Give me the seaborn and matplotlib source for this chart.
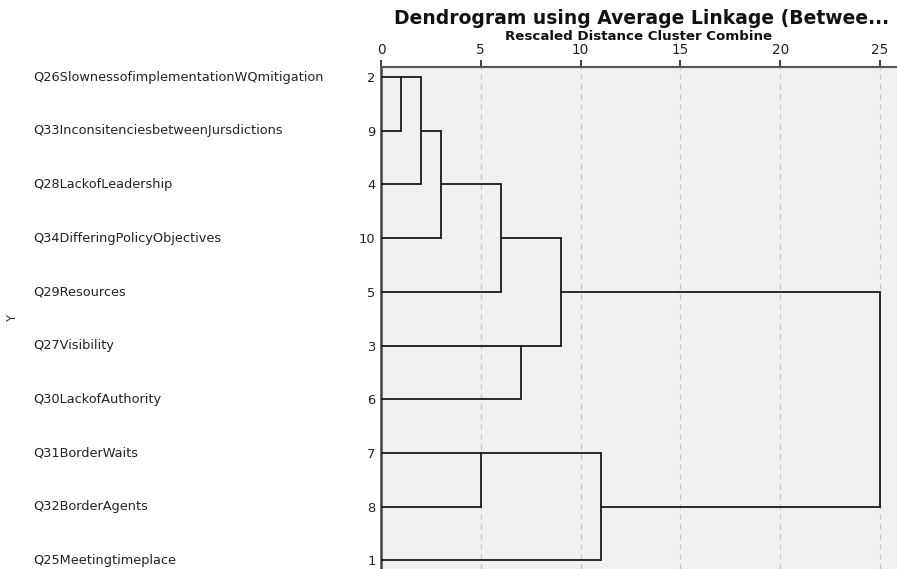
import matplotlib
matplotlib.use("Agg")
import matplotlib.pyplot as plt
import matplotlib.transforms as mtransforms
import numpy as np
import pandas as pd
import seaborn as sns

# Leaves in dendrogram order (top to bottom): case numbers and variable names
case_ids = [2, 9, 4, 10, 5, 3, 6, 7, 8, 1]
variables = [
    "Q26SlownessofimplementationWQmitigation",
    "Q33InconsitenciesbetweenJursdictions",
    "Q28LackofLeadership",
    "Q34DifferingPolicyObjectives",
    "Q29Resources",
    "Q27Visibility",
    "Q30LackofAuthority",
    "Q31BorderWaits",
    "Q32BorderAgents",
    "Q25Meetingtimeplace",
]

# Agglomeration steps: (left member, right member, rescaled distance)
# integers refer to case ids, "cN" to the cluster formed at step N
merge_left = [2, "c1", "c2", "c3", 3, "c4", 7, "c7", "c6"]
merge_right = [9, 4, 10, 5, 6, "c5", 8, 1, "c8"]
merge_dist = [1, 2, 3, 6, 7, 9, 5, 11, 25]

x_ticks = [0, 5, 10, 15, 20, 25]

sns.set_theme(style="white")
plt.rcParams["font.family"] = ["DejaVu Sans"]

# Build the elbow segments of the tree
row_of = {cid: i for i, cid in enumerate(case_ids)}
pos = {cid: (float(row_of[cid]), 0.0) for cid in case_ids}  # (row, x where its line starts)
segments = []
seg_id = 0
for step, (a, b, d) in enumerate(zip(merge_left, merge_right, merge_dist), start=1):
    ra, xa = pos[a]
    rb, xb = pos[b]
    for r, x0 in ((ra, xa), (rb, xb)):
        segments.append(pd.DataFrame({"x": [x0, d], "y": [r, r], "seg": seg_id}))
        seg_id += 1
    segments.append(pd.DataFrame({"x": [d, d], "y": [ra, rb], "seg": seg_id}))
    seg_id += 1
    pos[f"c{step}"] = (float(np.floor((ra + rb) / 2)), float(d))
lines = pd.concat(segments, ignore_index=True)

W, H = 897, 569
fig = plt.figure(figsize=(W / 100, H / 100), dpi=100)
ax = fig.add_axes([381 / W, 0, 1 - 381 / W, 1 - 67 / H])
ax.set_facecolor("#f0f0f0")

row_step = 53.72
ax.set_xlim(0, (W - 381) / 19.96)
ax.set_ylim((H - 77) / row_step, -10 / row_step)

for t in x_ticks[1:]:
    ax.axvline(t, color="#c4c4c4", lw=0.9, ls=(0, (4, 4)), zorder=1)

sns.lineplot(data=lines, x="x", y="y", units="seg", estimator=None, sort=False,
             color="#1a1a1a", lw=1.3, ax=ax, legend=False, zorder=3)

# Axes frame: top scale line and left spine only
for side in ("right", "bottom"):
    ax.spines[side].set_visible(False)
ax.spines["top"].set_color("#555555")
ax.spines["top"].set_linewidth(1.5)
ax.spines["left"].set_color("#444444")
ax.spines["left"].set_linewidth(1.8)

ax.xaxis.tick_top()
ax.set_xticks(x_ticks)
ax.set_xticklabels([str(t) for t in x_ticks])
ax.tick_params(axis="x", direction="out", length=5, width=1.3, color="#333333",
               labelsize=9.8, labelcolor="#222222", pad=2, top=True, bottom=False)
ax.set_yticks(range(len(case_ids)))
ax.set_yticklabels([str(c) for c in case_ids])
ax.tick_params(axis="y", length=0, pad=4, labelsize=9.4, labelcolor="#222222", left=True)
ax.set_xlabel("")
ax.set_ylabel("")

# Variable names on the left of the figure
trans = mtransforms.blended_transform_factory(fig.transFigure, ax.transData)
for i, name in enumerate(variables):
    ax.text(33 / W, i, name, transform=trans, ha="left", va="center",
            fontsize=9.3, color="#222222", clip_on=False)

fig.text(13 / W, 1 - 318 / H, "Y", rotation=90, ha="center", va="center",
         fontsize=8.5, color="#333333")

cx = (381 + W) / 2 / W
fig.text(cx + 3 / W, 1 - 19 / H, "Dendrogram using Average Linkage (Betwee...", ha="center",
         va="center", fontsize=13.5, fontweight="bold", color="#111111")
fig.text(cx, 1 - 36 / H, "Rescaled Distance Cluster Combine", ha="center",
         va="center", fontsize=9.6, fontweight="bold", color="#111111")

fig.savefig("out.png", dpi=100)
